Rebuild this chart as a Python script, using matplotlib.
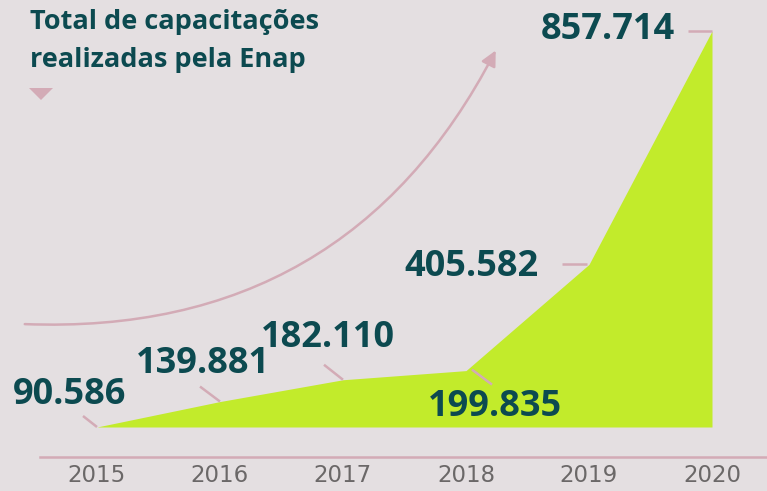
import matplotlib
matplotlib.use("Agg")
import matplotlib.pyplot as plt
import matplotlib.transforms as mtransforms
from matplotlib.patches import FancyArrowPatch, Polygon
from matplotlib.lines import Line2D

# dados
anos = [2015, 2016, 2017, 2018, 2019, 2020]
capacitacoes = [90586, 139881, 182110, 199835, 405582, 857714]
rotulos = ["90.586", "139.881", "182.110", "199.835", "405.582", "857.714"]
titulo = "Total de capacitações\nrealizadas pela Enap"

bg = "#e4dfe1"
lima = "#c2eb2b"
verde = "#0c4a50"
rosa = "#d3abb6"
cinza = "#6b6868"

W, H = 767, 491
fig = plt.figure(figsize=(W / 100, H / 100), dpi=100, facecolor=bg)
ax = fig.add_axes([0, 0, 1, 1])
ax.set_facecolor(bg)
ax.axis("off")

def px(x, y):
    # pixel (de cima p/ baixo) -> fração da figura
    return x / W, 1 - y / H

# escala: 2015 em x=97px, passo de 123px por ano; base em y=427px, topo em 31px
passo = 123.0
ax.set_xlim(anos[0] - 97 / passo, anos[0] + (W - 97) / passo)
k = (427 - 31) / (capacitacoes[-1] - capacitacoes[0])
ax.set_ylim(capacitacoes[0] - (H - 427) / k, capacitacoes[0] + 427 / k)

ax.fill_between(anos, capacitacoes, capacitacoes[0], color=lima, lw=0)

# conectores e rótulos (offsets em pixels a partir do vértice)
conectores = [((0, 0), (-14, 11)), ((0, 0), (-20, 15)), ((0, 0), (-19, 15)),
              ((6, 1), (26, -14)), ((-2, 0), (-27, 0)), ((0, 0), (-24, 0))]
pos_rot = [((-27, 32), "center"), ((-17, 38), "center"), ((-15, 42), "center"),
           ((29, -36), "center"), ((-50, -3), "right"), ((-37, 1), "right")]

for ano, v, txt, (a, b), ((ox, oy), ha) in zip(anos, capacitacoes, rotulos, conectores, pos_rot):
    p = ax.transData.transform((ano, v))
    x0, y0 = p[0] + a[0], p[1] + a[1]
    x1, y1 = p[0] + b[0], p[1] + b[1]
    fig.add_artist(Line2D([x0 / W, x1 / W], [y0 / H, y1 / H], color=rosa, lw=1.8,
                          transform=fig.transFigure, solid_capstyle="butt"))
    ax.annotate(txt, xy=(ano, v), xytext=(ox, oy), textcoords="offset pixels",
                ha=ha, va="center", fontsize=26, fontweight="bold",
                color=verde, family=["Open Sans", "DejaVu Sans"])

# eixo
xa, ya = px(40, 457)
fig.add_artist(Line2D([xa, 1], [ya, ya], color=rosa, lw=1.8, transform=fig.transFigure))
trans = mtransforms.blended_transform_factory(ax.transData, fig.transFigure)
for ano in anos:
    ax.text(ano, 1 - 476 / H, str(ano), transform=trans, ha="center", va="center",
            fontsize=16.5, color=cinza, family="DejaVu Sans")

# título
linhas = titulo.split("\n")
for i, ln in enumerate(linhas):
    fig.text(30 / W, 1 - (29 + 38 * i) / H, ln, ha="left", va="baseline",
             fontsize=19.5, fontweight="bold", color=verde,
             family=["Open Sans", "DejaVu Sans"])

tri = Polygon([px(29, 88), px(53, 88), px(41, 100)], closed=True,
              facecolor=rosa, edgecolor="none", transform=fig.transFigure)
fig.add_artist(tri)

# seta curva
seta = FancyArrowPatch(px(22, 324), px(497, 48), transform=fig.transFigure,
                       connectionstyle="arc3,rad=0.32",
                       arrowstyle="-|>,head_length=0.7,head_width=0.35",
                       mutation_scale=13, color=rosa, lw=1.8)
fig.add_artist(seta)

fig.savefig("out.png", dpi=100, facecolor=bg)
